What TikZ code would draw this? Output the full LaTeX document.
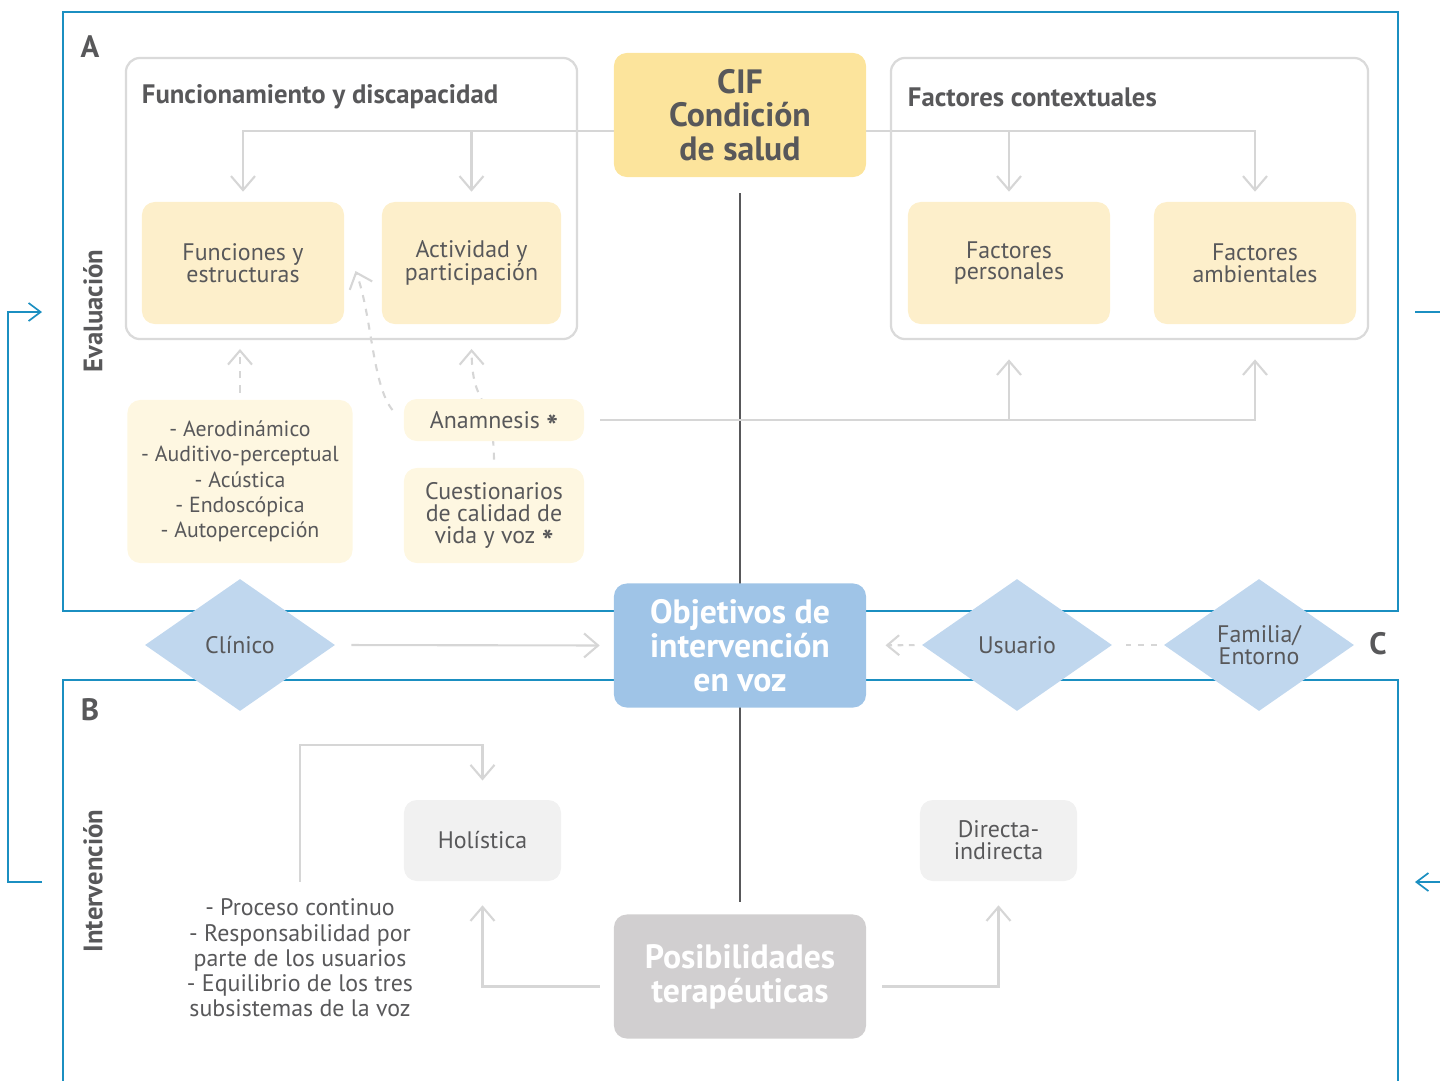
\documentclass[tikz,border=0pt]{standalone}
\usepackage{fontspec}
\setmainfont{PT Sans}
\usetikzlibrary{arrows.meta,shapes.geometric,positioning,calc,backgrounds}
\definecolor{txtgrey}{HTML}{58585A}
\definecolor{frameblue}{HTML}{1B8FC1}
\definecolor{cifyellow}{HTML}{FCE49C}
\definecolor{compyellow}{HTML}{FDEFCB}
\definecolor{toolyellow}{HTML}{FEF7E1}
\definecolor{goalblue}{HTML}{9FC4E7}
\definecolor{actorblue}{HTML}{C0D7EE}
\definecolor{posgrey}{HTML}{D1CFD0}
\definecolor{modegrey}{HTML}{F1F1F1}
\definecolor{groupgrey}{HTML}{DADADA}
\definecolor{linkgrey}{HTML}{D6D6D6}
\definecolor{axisgrey}{HTML}{58585A}
\newcommand{\noteast}{\smash{\raisebox{-0.75ex}{\bfseries\fontsize{22}{22}\selectfont *}}}
\tikzstyle{cif} = [rectangle, rounded corners=0.32cm, fill=cifyellow, text=txtgrey, minimum width=6.3cm, minimum height=3.1cm, align=center, font=\bfseries\fontsize{24}{24}\selectfont]
\tikzstyle{goal} = [cif, fill=goalblue, text=white]
\tikzstyle{posib} = [cif, fill=posgrey, text=white]
\tikzstyle{comp} = [rectangle, rounded corners=0.32cm, fill=compyellow, text=txtgrey, minimum width=5.05cm, minimum height=3.05cm, align=center, font=\fontsize{17}{15.5}\selectfont]
\tikzstyle{tool} = [comp, fill=toolyellow]
\tikzstyle{mode} = [comp, fill=modegrey, minimum width=3.925cm, minimum height=2.025cm]
\tikzstyle{group} = [rectangle, rounded corners=0.35cm, draw=groupgrey, line width=1.6pt, minimum height=7.025cm]
\tikzstyle{grouptitle} = [anchor=west, text=txtgrey, font=\bfseries\fontsize{19}{19}\selectfont]
\tikzstyle{actor} = [diamond, fill=actorblue, minimum width=4.75cm, minimum height=3.3cm, inner sep=0pt, align=center, text=txtgrey, font=\fontsize{17}{15.5}\selectfont]
\tikzstyle{listtext} = [align=center, text=txtgrey, font=\fontsize{17}{18}\selectfont]
\tikzstyle{letter} = [text=txtgrey, font=\bfseries\fontsize{22}{22}\selectfont]
\tikzstyle{side} = [rotate=90, text=txtgrey, font=\bfseries\fontsize{19}{19}\selectfont]
\tikzstyle{link} = [draw=linkgrey, line width=1.5pt]
\tikzstyle{dlink} = [link, dash pattern=on 5pt off 5pt]
\tikzstyle{axis} = [draw=axisgrey, line width=1.8pt]
\tikzstyle{frame} = [draw=frameblue, line width=1.6pt]
\tikzstyle{fb} = [draw=frameblue, line width=1.2pt, >={Straight Barb[length=0.3cm,width=0.45cm]}]

\begin{document}
\begin{tikzpicture}[x=0.025cm, y=-0.025cm, >={Straight Barb[length=0.35cm,width=0.6cm]}]
	\useasboundingbox (0,0) rectangle (1440,1080);
	
	% frames A and B
	\draw[frame] (63,12) rectangle (1398,611);
	\draw[frame] (63,1100) -- (63,680) -- (1398,680) -- (1398,1100);
	\node[letter] (labA) at (90,47) {A};
	\node[letter] (labB) at (90,710) {B};
	\node[letter] (labC) at (1378,644) {C};
	\node[side] (eval) at (93,311) {Evaluación};
	\node[side] (interv) at (93,881) {Intervención};
	
	% CIF part
	\node[group, minimum width=11.275cm] (grpF) at (351.5,198.5) {};
	\node[group, minimum width=11.925cm] (grpC) at (1129.5,198.5) {};
	\node[grouptitle] (titF) at (137,97) {Funcionamiento y discapacidad};
	\node[grouptitle] (titC) at (903,97) {Factores contextuales};
	\node[cif] (cif) at (740,115) {CIF\\Condición\\de salud};
	\node[comp] (fun) at (243,263) {Funciones y\\estructuras};
	\node[comp, minimum width=4.475cm] (act) at (471.5,263) {Actividad y\\participación};
	\node[comp] (per) at (1009,263) {Factores\\personales};
	\node[comp] (amb) at (1255,263) {Factores\\ambientales};
	
	% tools
	\node[tool, minimum width=5.625cm, minimum height=4.075cm, font=\fontsize{15.5}{18}\selectfont] (aero) at (240,481.5) {- Aerodinámico\\- Auditivo-perceptual\\- Acústica\\- Endoscópica\\- Autopercepción};
	\node[tool, minimum width=4.5cm, minimum height=1.05cm] (anam) at (494,420) {Anamnesis \noteast};
	\node[tool, minimum width=4.5cm, minimum height=2.375cm] (cues) at (494,515.5) {Cuestionarios\\de calidad de\\vida y voz \noteast};
	
	% goals
	\node[actor] (cli) at (240,645) {Clínico};
	\node[goal] (obj) at (740,645.5) {Objetivos de\\intervención\\en voz};
	\node[actor] (usu) at (1017,645) {Usuario};
	\node[actor] (fam) at (1259,645) {Familia/\\Entorno};
	
	% intervention
	\node[mode] (hol) at (482.5,840.5) {Holística};
	\node[mode] (dir) at (998.5,840.5) {Directa-\\indirecta};
	\node[posib] (pos) at (740,976.5) {Posibilidades\\terapéuticas};
	\node[listtext] (proc) at (300,958) {- Proceso continuo\\- Responsabilidad por\\parte de los usuarios\\- Equilibrio de los tres\\subsistemas de la voz};
	
	\coordinate (cifL) at ([yshift=-0.4cm]cif.west);
	\coordinate (cifR) at ([yshift=-0.4cm]cif.east);
	\coordinate (hbend) at (299,745);
	\coordinate (fbA) at (42,312);
	\coordinate (fbB) at (42,882);
	\coordinate (rtA) at (1415,312);
	\coordinate (rtB) at (1415,882);
	
	\begin{scope}[on background layer]
		% arrows
		\draw[link,->,shorten >=0.25cm] (cifL) -| (fun.north);
		\draw[link,->,shorten >=0.25cm] (act.north |- cifL) -- (act.north);
		\draw[link,->,shorten >=0.25cm] (cifR) -| (amb.north);
		\draw[link,->,shorten >=0.25cm] (per.north |- cifR) -- (per.north);
		\draw[axis,shorten <=0.4cm,shorten >=0.3cm] (cif.south) -- (pos.north);
		\draw[dlink,->,shorten <=0.18cm,shorten >=0.22cm] (aero.north) -- (aero.north |- grpF.south);
		\draw[dlink,->,shorten >=0.22cm] ([yshift=0.2cm]cues.north) .. controls (493,390) and (472,410) .. (act.south |- grpF.south);
		\draw[dlink,->] ([shift={(-0.28cm,0.25cm)}]anam.west) .. controls (372,385) and (372,315) .. ([shift={(0.28cm,-0.2cm)}]fun.east);
		\draw[link,->,shorten <=0.4cm,shorten >=0.48cm] (anam.east) -| (amb.south |- grpC.south);
		\draw[link,->,shorten >=0.48cm] (per.south |- anam.east) -- (per.south |- grpC.south);
		\draw[link,->,shorten <=0.4cm,shorten >=0.35cm] (cli.east) -- (obj.west);
		\draw[dlink,dash pattern=on 4pt off 4pt,->,shorten <=0.18cm,shorten >=0.48cm,>={Straight Barb[length=0.3cm,width=0.5cm]}] (usu.west) -- (obj.east);
		\draw[dlink,dash pattern=on 4pt off 5pt,shorten <=0.18cm,shorten >=0.2cm] (fam.west) -- (usu.east);
		\draw[link,->,shorten >=0.6cm] ([shift={(-0.35cm,-0.25cm)}]pos.west) -| (hol.south);
		\draw[link,->,shorten >=0.6cm] ([shift={(0.4cm,-0.25cm)}]pos.east) -| (dir.south);
		\draw[link,->,shorten <=0.3cm,shorten >=0.48cm] (proc.north) -- (proc.north |- hbend) -| (hol.north);
	\end{scope}
	
	% loop
	\draw[fb,->] (fbB) -- ++(-34,0) |- (fbA);
	\draw[fb] (rtA) -- ++(25,0);
	\draw[fb,<-] (rtB) -- ++(25,0);
\end{tikzpicture}
\end{document}
